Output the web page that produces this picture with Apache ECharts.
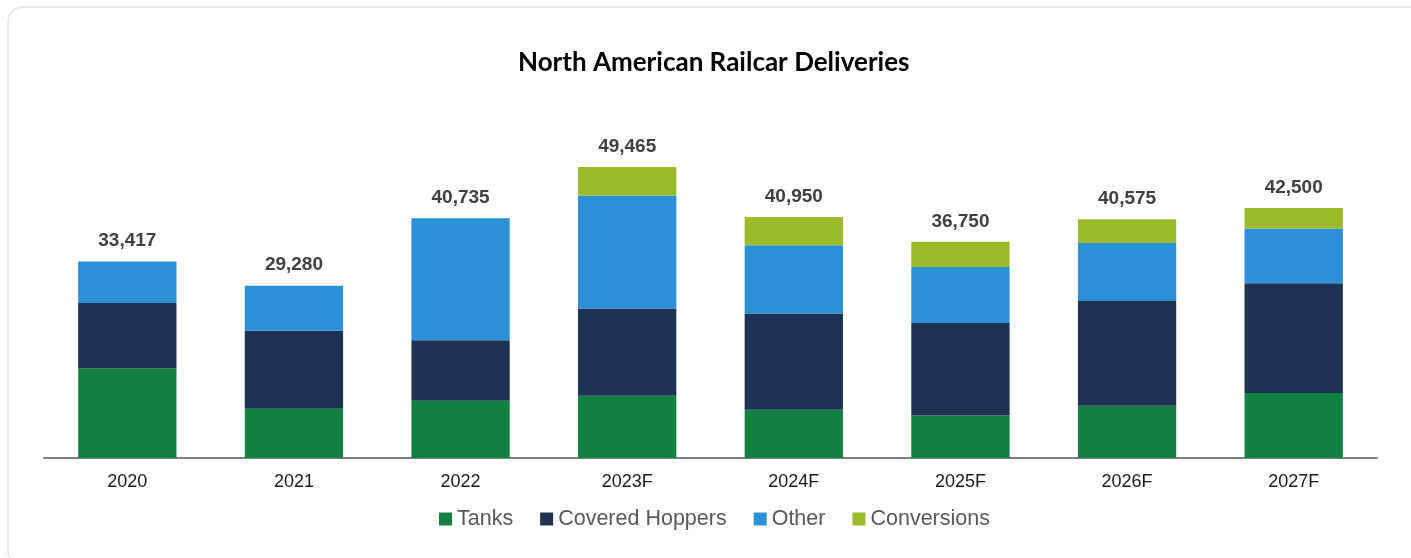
<!DOCTYPE html>
<html>
<head>
<meta charset="utf-8">
<script src="https://cdn.jsdelivr.net/npm/echarts@6/dist/echarts.min.js"></script>
<style>
  html, body { margin: 0; padding: 0; background: #ffffff; overflow: hidden; }
  #card { position: absolute; left: 7px; top: 6px; width: 1420px; height: 560px;
          border: 2px solid #e9e9e9; border-radius: 16px; box-sizing: border-box; }
  #chart { position: absolute; left: 0; top: 0; width: 1411px; height: 558px; }
</style>
</head>
<body>
<div id="card"></div>
<div id="chart"></div>
<script>
const categories = ['2020', '2021', '2022', '2023F', '2024F', '2025F', '2026F', '2027F'];
const tanks          = [15200,  8380,  9730, 10600,  8190,  7225,  8875, 11040];
const coveredHoppers = [11150, 13230, 10300, 14800, 16390, 15730, 17825, 18680];
const other          = [ 7067,  7670, 20705, 19200, 11575,  9500,  9850,  9270];
const conversions    = [    0,     0,     0,  4865,  4795,  4295,  4025,  3510];
const totals         = [33417, 29280, 40735, 49465, 40950, 36750, 40575, 42500];
const seriesNames = ['Tanks', 'Covered Hoppers', 'Other', 'Conversions'];
const colors = ['#118241', '#1f3254', '#2b90d6', '#9bbb2b'];

const chart = echarts.init(document.getElementById('chart'), null, { renderer: 'canvas' });

function barSeries(name, data, color) {
  return {
    name: name, type: 'bar', stack: 'total', data: data,
    barCategoryGap: '41%',
    itemStyle: { color: color },
    emphasis: { disabled: true }
  };
}

chart.setOption({
  animation: false,
  color: colors,
  title: {
    text: 'North American Railcar Deliveries',
    left: 513, top: 45,
    textStyle: { fontFamily: 'Lato, "Open Sans", sans-serif',
                 fontWeight: 'bold', fontSize: 26, color: '#000000' }
  },
  legend: {
    data: seriesNames,
    left: 434, top: 503,
    icon: 'rect', itemWidth: 13, itemHeight: 13, itemGap: 27,
    textStyle: { fontFamily: '"Liberation Sans", Arial, sans-serif', fontSize: 21.5, color: '#595959' }
  },
  grid: { left: 44, right: 34, top: 105, bottom: 100, containLabel: false },
  xAxis: {
    type: 'category', data: categories,
    axisLine: { lineStyle: { color: '#808080', width: 2 } },
    axisTick: { show: false },
    axisLabel: { margin: 15, fontFamily: '"Liberation Sans", Arial, sans-serif', fontSize: 18, color: '#1a1a1a' }
  },
  yAxis: { type: 'value', min: 0, max: 60000, show: false, splitLine: { show: false } },
  series: [
    barSeries('Tanks', tanks, colors[0]),
    barSeries('Covered Hoppers', coveredHoppers, colors[1]),
    barSeries('Other', other, colors[2]),
    barSeries('Conversions', conversions, colors[3]),
    {
      name: 'Total', type: 'bar', stack: 'total',
      data: categories.map(() => 0),
      itemStyle: { color: 'transparent' },
      label: {
        show: true, position: 'top', distance: 11,
        formatter: p => totals[p.dataIndex].toLocaleString('en-US'),
        fontFamily: '"Liberation Sans", Arial, sans-serif',
        fontWeight: 'bold', fontSize: 19, color: '#404040'
      },
      emphasis: { disabled: true },
      tooltip: { show: false }
    }
  ]
});
</script>
</body>
</html>
